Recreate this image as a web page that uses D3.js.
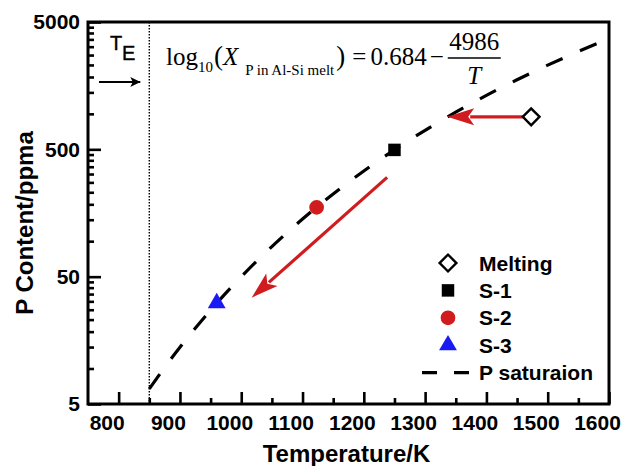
<!DOCTYPE html>
<html>
<head>
<meta charset="utf-8">
<script src="https://cdn.jsdelivr.net/npm/d3@7/dist/d3.min.js"></script>
<style>
  html, body { margin: 0; padding: 0; background: #fff; }
  svg { display: block; }
  .sans { font-family: "Liberation Sans", Arial, sans-serif; }
  .serif { font-family: "Liberation Serif", "Times New Roman", serif; }
</style>
</head>
<body>
<svg id="chart" width="634" height="466"></svg>
<script>
// ---- data ----
const seriesNames = ["Melting", "S-1", "S-2", "S-3"];
const seriesTemp = [1473, 1250, 1123, 960];     // K
const seriesP = [900, 495, 175, 31];            // ppma
const seriesColor = ["#ffffff", "#000000", "#d01c1f", "#1a1af5"];
const seriesShape = ["diamond", "square", "circle", "triangle"];

// P saturation line: log10(X) = A - B / T  (X as mole fraction, ppma = X * 1e6)
const satA = 0.684;
const satB = 4986;
const satTemps = [850, 875, 900, 950, 1000, 1050, 1100, 1150, 1200, 1250, 1300,
                  1350, 1400, 1450, 1500, 1550, 1580];

const eutecticT = 850;   // T_E, K

// shift arrows (start/end in data units)
const arrowsData = [
  { from: [1461, 900], to: [1336, 900] },
  { from: [1238, 301], to: [1017, 34.2] }
];

const xTicks = [800, 900, 1000, 1100, 1200, 1300, 1400, 1500, 1600];
const xMinorTicks = [850, 950, 1050, 1150, 1250, 1350, 1450, 1550];
const yTicks = [5, 50, 500, 5000];

// ---- layout ----
const svg = d3.select("#chart");
const L = 88, R = 609, T = 22, B = 404;

const x = d3.scaleLinear().domain([750, 1600]).range([L, R]);
const y = d3.scaleLog().domain([5, 5000]).range([B, T]);

// minor ticks: 9 evenly spaced within each decade
const yMinorTicks = [];
yTicks.slice(0, -1).forEach(b => {
  for (let k = 1; k <= 9; k++) yMinorTicks.push(b + k * 0.9 * b);
});

// ---- axes (ticks inward) ----
const gx = svg.append("g").attr("transform", `translate(0,${B})`)
  .call(d3.axisBottom(x).tickValues(xTicks).tickSize(-12).tickPadding(11).tickFormat(d3.format("d")));
gx.select(".domain").remove();
gx.selectAll(".tick line").attr("stroke", "#000").attr("stroke-width", 2.6);
gx.selectAll(".tick text").attr("class", "sans").attr("font-size", 21).attr("font-weight", "bold")
  .attr("fill", "#000").attr("x", -12).attr("dy", "0.71em");

const gxm = svg.append("g").attr("transform", `translate(0,${B})`)
  .call(d3.axisBottom(x).tickValues(xMinorTicks).tickSize(-6).tickFormat(""));
gxm.select(".domain").remove();
gxm.selectAll(".tick line").attr("stroke", "#000").attr("stroke-width", 2.6);

const gy = svg.append("g").attr("transform", `translate(${L},0)`)
  .call(d3.axisLeft(y).tickValues(yTicks).tickSize(-13).tickPadding(8).tickFormat(d3.format("d")));
gy.select(".domain").remove();
gy.selectAll(".tick line").attr("stroke", "#000").attr("stroke-width", 2.6);
gy.selectAll(".tick text").attr("class", "sans").attr("font-size", 21).attr("font-weight", "bold")
  .attr("fill", "#000");

const gym = svg.append("g").attr("transform", `translate(${L},0)`)
  .call(d3.axisLeft(y).tickValues(yMinorTicks).tickSize(-6).tickFormat(""));
gym.select(".domain").remove();
gym.selectAll(".tick line").attr("stroke", "#000").attr("stroke-width", 2.6);

// frame
svg.append("rect").attr("x", L).attr("y", T).attr("width", R - L).attr("height", B - T)
  .attr("fill", "none").attr("stroke", "#000").attr("stroke-width", 3);

// axis titles
svg.append("text").attr("class", "sans").attr("font-size", 24).attr("font-weight", "bold")
  .attr("text-anchor", "middle").attr("x", (L + R) / 2 - 2).attr("y", 462)
  .text("Temperature/K");
svg.append("text").attr("class", "sans").attr("font-size", 24).attr("font-weight", "bold")
  .attr("text-anchor", "middle")
  .attr("transform", `translate(33,${(T + B) / 2 + 10}) rotate(-90)`)
  .text("P Content/ppma");

// eutectic temperature marker
svg.append("line")
  .attr("x1", x(eutecticT)).attr("x2", x(eutecticT)).attr("y1", T).attr("y2", B)
  .attr("stroke", "#000").attr("stroke-width", 1.4).attr("stroke-dasharray", "1.4,1.6");

const te = svg.append("text").attr("class", "sans").attr("font-size", 20).attr("fill", "#000")
  .attr("stroke", "#000").attr("stroke-width", 0.4);
te.append("tspan").attr("x", 110).attr("y", 50).text("T");
te.append("tspan").attr("x", 122).attr("y", 60).text("E");

const defs = svg.append("defs");
defs.append("marker").attr("id", "blackHead").attr("viewBox", "0 0 10 10")
  .attr("refX", 10).attr("refY", 5).attr("markerWidth", 10).attr("markerHeight", 10)
  .attr("markerUnits", "userSpaceOnUse").attr("orient", "auto")
  .append("path").attr("d", "M0,0 L10,5 L0,10 L2.5,5 Z").attr("fill", "#000");
svg.append("line").attr("x1", 99).attr("x2", x(eutecticT) - 9).attr("y1", 82).attr("y2", 82)
  .attr("stroke", "#000").attr("stroke-width", 2).attr("marker-end", "url(#blackHead)");

// saturation line
const satLine = d3.line()
  .x(t => x(t))
  .y(t => y(1e6 * Math.pow(10, satA - satB / t)))
  .curve(d3.curveMonotoneX);
svg.append("path").datum(satTemps).attr("d", satLine)
  .attr("fill", "none").attr("stroke", "#000").attr("stroke-width", 3.2)
  .attr("stroke-dasharray", "18,19");

// red arrows
const headLen = 27, headHalf = 8.5;
arrowsData.forEach(a => {
  const x0 = x(a.from[0]), y0 = y(a.from[1]);
  const x1 = x(a.to[0]), y1 = y(a.to[1]);
  const dx = x1 - x0, dy = y1 - y0, len = Math.hypot(dx, dy);
  const ux = dx / len, uy = dy / len;
  const bx = x1 - ux * headLen, by = y1 - uy * headLen;
  svg.append("line").attr("x1", x0).attr("y1", y0).attr("x2", bx + ux * 4).attr("y2", by + uy * 4)
    .attr("stroke", "#d01c1f").attr("stroke-width", 3.2);
  const p = [
    [x1, y1],
    [bx - uy * headHalf, by + ux * headHalf],
    [bx + ux * 6, by + uy * 6],
    [bx + uy * headHalf, by - ux * headHalf]
  ];
  svg.append("path").attr("d", "M" + p.map(q => q.join(",")).join("L") + "Z")
    .attr("fill", "#d01c1f");
});

// markers
function symbolPath(shape, s) {
  if (shape === "diamond") return d3.symbol(d3.symbolSquare, 140 * s)();
  if (shape === "square") return d3.symbol(d3.symbolSquare, 156 * s)();
  if (shape === "circle") return d3.symbol(d3.symbolCircle, 170 * s)();
  return d3.symbol(d3.symbolTriangle, 138 * s)();
}
function drawMarker(i, cx, cy, s) {
  const shape = seriesShape[i];
  svg.append("path")
    .attr("d", symbolPath(shape, s))
    .attr("transform", `translate(${cx},${cy})` + (shape === "diamond" ? " rotate(45)" : ""))
    .attr("fill", seriesColor[i])
    .attr("stroke", shape === "diamond" ? "#000" : "none")
    .attr("stroke-width", 2.4);
}
seriesNames.forEach((n, i) => drawMarker(i, x(seriesTemp[i]), y(seriesP[i]), 1));

// legend
const legX = 448, legTextX = 479, legY0 = 263, legDY = 27.4;
seriesNames.forEach((n, i) => {
  const cy = legY0 + i * legDY;
  drawMarker(i, legX, cy, 1);
  svg.append("text").attr("class", "sans").attr("font-size", 21).attr("font-weight", "bold")
    .attr("x", legTextX).attr("y", cy + 7.5).text(n);
});
const satLegY = legY0 + 4 * legDY;
svg.append("line").attr("x1", 422).attr("x2", 469).attr("y1", satLegY).attr("y2", satLegY)
  .attr("stroke", "#000").attr("stroke-width", 3.2).attr("stroke-dasharray", "15,17");
svg.append("text").attr("class", "sans").attr("font-size", 21).attr("font-weight", "bold")
  .attr("x", legTextX).attr("y", satLegY + 7.5).text("P saturaion");

// equation label, laid out piece by piece from measured widths
const eq = svg.append("g").attr("class", "serif").attr("fill", "#000");
const base = 65, big = 25, small = 15;
let cursor = 166;
function put(txt, size, opts = {}) {
  const t = eq.append("text").attr("x", cursor).attr("y", base + (opts.shift || 0))
    .attr("font-size", size).text(txt);
  if (opts.italic) t.attr("font-style", "italic");
  cursor += t.node().getComputedTextLength() + (opts.gap || 0);
  return t;
}
put("log", big);
put("10", small, { shift: 7, gap: 1 });
put("(", big + 2);
put("X", big, { italic: true, gap: 7 });
put("P in Al-Si melt", small, { shift: 10, gap: 2 });
put(")", big + 2, { gap: 7 });
put("=", big, { gap: 4 });
put(String(satA), big, { gap: 3 });
put("\u2212", big, { gap: 4 });
const fracL = cursor, fracR = cursor + 53, fracC = (fracL + fracR) / 2;
eq.append("text").attr("x", fracC).attr("y", 50).attr("font-size", big)
  .attr("text-anchor", "middle").text(String(satB));
eq.append("line").attr("x1", fracL).attr("x2", fracR).attr("y1", 58).attr("y2", 58)
  .attr("stroke", "#000").attr("stroke-width", 1.3);
eq.append("text").attr("x", fracC).attr("y", 84).attr("font-size", big).attr("font-style", "italic")
  .attr("text-anchor", "middle").text("T");
</script>
</body>
</html>
